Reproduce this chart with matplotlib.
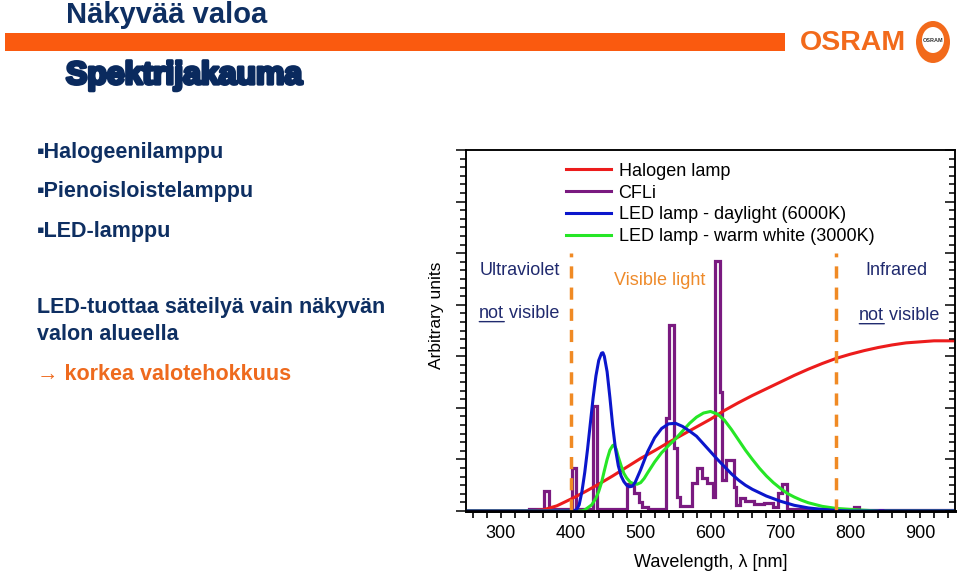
import numpy as np
import matplotlib.pyplot as plt
from matplotlib.lines import Line2D
from matplotlib.patches import Rectangle, Ellipse
import matplotlib.patheffects as pe

plt.rcParams['font.family'] = ['Liberation Sans', 'DejaVu Sans']

# Halogen lamp
halo_nm = [250, 340, 360, 380, 400, 420, 440, 460, 480, 500, 520, 540, 560, 580,
           600, 620, 640, 660, 680, 700, 720, 740, 760, 780, 800, 820, 840, 860,
           880, 900, 920, 950]
halo_val = [0.0, 0.0, 0.02, 0.1, 0.23, 0.37, 0.52, 0.68, 0.85, 1.02, 1.17, 1.33,
            1.48, 1.63, 1.78, 1.95, 2.1, 2.24, 2.37, 2.5, 2.63, 2.75, 2.86, 2.96,
            3.04, 3.11, 3.17, 3.22, 3.26, 3.28, 3.3, 3.3]

# CFLi (step spectrum)
cfl_edges = [250, 340, 362, 369, 402, 408, 432, 438, 481, 490, 497, 502, 510, 537,
             541, 548, 552, 557, 574, 581, 588, 595, 604, 607, 613, 617, 622, 633,
             636, 642, 649, 662, 676, 690, 696, 702, 710, 805, 812, 950]
cfl_val = [0.0, 0.03, 0.39, 0.03, 0.84, 0.04, 2.04, 0.03, 0.52, 0.34, 0.18, 0.08,
           0.04, 1.8, 3.61, 1.22, 0.28, 0.1, 0.54, 0.83, 0.64, 0.54, 0.28, 4.84,
           2.3, 0.6, 0.99, 0.47, 0.12, 0.25, 0.2, 0.14, 0.15, 0.08, 0.35, 0.52,
           0.04, 0.08, 0.02]

# LED daylight (6000K)
day_nm = [250, 400, 408, 412, 416, 420, 424, 428, 432, 436, 440, 444, 446, 448, 452,
          456, 460, 464, 468, 472, 476, 480, 484, 488, 492, 500, 510, 520, 530, 540,
          550, 560, 570, 580, 590, 600, 610, 620, 630, 640, 650, 660, 680, 700, 720,
          740, 760, 780, 800, 950]
day_val = [0.0, 0.0, 0.02, 0.12, 0.38, 0.75, 1.2, 1.7, 2.2, 2.62, 2.92, 3.06, 3.07,
           3.0, 2.7, 2.2, 1.65, 1.2, 0.88, 0.68, 0.57, 0.5, 0.47, 0.48, 0.55, 0.8,
           1.15, 1.42, 1.6, 1.69, 1.7, 1.64, 1.55, 1.45, 1.3, 1.15, 1.0, 0.86, 0.72,
           0.6, 0.5, 0.42, 0.29, 0.19, 0.11, 0.06, 0.03, 0.01, 0.0, 0.0]

# LED warm white (3000K)
warm_nm = [250, 416, 420, 430, 436, 440, 444, 448, 452, 456, 460, 462, 465, 468,
           472, 476, 480, 485, 490, 495, 500, 505, 510, 520, 530, 540, 550, 560,
           570, 580, 590, 600, 610, 620, 630, 640, 650, 660, 670, 680, 690, 700,
           710, 720, 730, 740, 760, 780, 800, 820, 840, 845, 850, 950]
warm_val = [0.0, 0.0, 0.02, 0.12, 0.25, 0.38, 0.55, 0.78, 1.0, 1.18, 1.27, 1.28,
            1.2, 1.05, 0.88, 0.73, 0.64, 0.56, 0.53, 0.52, 0.55, 0.63, 0.74, 0.95,
            1.13, 1.27, 1.4, 1.55, 1.7, 1.82, 1.9, 1.93, 1.88, 1.76, 1.58, 1.38,
            1.18, 1.0, 0.83, 0.68, 0.55, 0.44, 0.34, 0.27, 0.21, 0.16, 0.09, 0.05,
            0.03, 0.015, 0.0, -0.05, 0.0, 0.0]

labels = ['Halogen lamp', 'CFLi', 'LED lamp - daylight (6000K)',
          'LED lamp - warm white (3000K)']
colors = ['#EC1C1C', '#7A1A80', '#0B16CC', '#26E626']
border_nm = [400, 780]
xticks = [300, 400, 500, 600, 700, 800, 900]

navy = '#0E2F62'
dark = '#202A6E'
orange = '#FA5A0F'
vis_orange = '#EE8A2A'

fig = plt.figure(figsize=(9.6, 5.74), dpi=100)

# Kopfbereich
fig.text(66 / 960, 1 - 15 / 574, 'Näkyvää valoa', fontsize=21, fontweight='bold',
         color=navy, va='center', ha='left')
fig.add_artist(Rectangle((5 / 960, 1 - 51 / 574), 780 / 960, 18 / 574,
                         transform=fig.transFigure, color=orange, lw=0))
fig.text(66 / 960, 1 - 76 / 574, 'Spektrijakauma', fontsize=23, fontweight='bold',
         color='#0A2A5E', va='center', ha='left',
         path_effects=[pe.withStroke(linewidth=2.4, foreground='#0A2A5E')])
fig.text(800 / 960, 1 - 43 / 574, 'OSRAM', fontsize=20.5, fontweight='bold',
         color='#F26A1B', va='center', ha='left')
fig.add_artist(Ellipse((933 / 960, 1 - 42 / 574), 34 / 960, 42 / 574,
                       transform=fig.transFigure, color='#F26A1B', lw=0))
fig.add_artist(Ellipse((933 / 960, 1 - 40 / 574), 22 / 960, 26 / 574,
                       transform=fig.transFigure, color='white', lw=0))
fig.text(933 / 960, 1 - 41 / 574, 'OSRAM', fontsize=4, fontweight='bold',
         color='#333333', va='center', ha='center')

# Text links
for txt, py in [('▪Halogeenilamppu', 153), ('▪Pienoisloistelamppu', 191),
                ('▪LED-lamppu', 231)]:
    fig.text(37 / 960, 1 - py / 574, txt, fontsize=15.5, fontweight='bold',
             color=navy, va='center', ha='left')
fig.text(37 / 960, 1 - 308 / 574, 'LED-tuottaa säteilyä vain näkyvän',
         fontsize=15.5, fontweight='bold', color=navy, va='center', ha='left')
fig.text(37 / 960, 1 - 335 / 574, 'valon alueella',
         fontsize=15.5, fontweight='bold', color=navy, va='center', ha='left')
fig.text(37 / 960, 1 - 374 / 574, '→ korkea valotehokkuus',
         fontsize=15.5, fontweight='bold', color='#EE6A1E', va='center', ha='left')

# Diagramm
ax = fig.add_axes([466 / 960, 1 - 511 / 574, 489 / 960, 361 / 574])
ax.set_xlim(250, 950)
ax.set_ylim(0, 7)

ax.stairs(cfl_val, cfl_edges, color=colors[1], lw=2.3, zorder=2)
ax.plot(halo_nm, halo_val, color=colors[0], lw=2.2, zorder=3)
ax.plot(warm_nm, warm_val, color=colors[3], lw=2.2, zorder=4)
ax.plot(day_nm, day_val, color=colors[2], lw=2.2, zorder=5)

for b in border_nm:
    ax.plot([b, b], [0, 5.0], color='#F08A24', lw=2.5, dashes=(3.5, 2.6), zorder=6)

handles = [Line2D([], [], color=c, lw=2.2) for c in colors]
ax.legend(handles, labels, loc='upper left', bbox_to_anchor=(0.205, 0.965),
          frameon=False, fontsize=13, handlelength=2.5, handletextpad=0.4,
          labelspacing=0.27, borderpad=0, borderaxespad=0)

ax.text(327, 4.66, 'Ultraviolet', fontsize=13, color=dark, ha='center', va='center')
ax.text(527, 4.47, 'Visible light', fontsize=13, color=vis_orange, ha='center',
        va='center')
ax.text(866, 4.66, 'Infrared', fontsize=13, color=dark, ha='center', va='center')

for x0, yy in [(269, 3.83), (813, 3.79)]:
    t1 = ax.text(x0, yy, 'not', fontsize=13, color=dark, ha='left', va='center')
    ax.annotate(' visible', xy=(1, 0), xycoords=t1, fontsize=13, color=dark,
                ha='left', va='bottom')
    ax.annotate('', xy=(0, 0.02), xycoords=t1, xytext=(1, 0.02), textcoords=t1,
                arrowprops=dict(arrowstyle='-', color=dark, lw=1.0,
                                shrinkA=0, shrinkB=0))

ax.set_xticks(xticks)
ax.set_xticks(np.arange(260, 951, 20), minor=True)
ax.set_yticks(np.arange(0, 7.01, 1))
ax.set_yticks(np.arange(0, 7.01, 1 / 6), minor=True)
ax.tick_params(axis='x', which='both', direction='out', top=False, labelsize=13,
               length=5, width=1.2, pad=5)
ax.tick_params(axis='y', which='major', direction='out', length=7, width=1.1,
               labelleft=False)
ax.tick_params(axis='y', which='minor', direction='out', length=4, width=1.1)

ax2 = ax.twinx()
ax2.set_ylim(0, 7)
ax2.set_yticks(np.arange(0, 7.01, 1))
ax2.set_yticks(np.arange(0, 7.01, 1 / 6), minor=True)
ax2.tick_params(axis='y', which='major', direction='in', length=7, width=1.1,
                labelright=False)
ax2.tick_params(axis='y', which='minor', direction='in', length=4, width=1.1)

for a in (ax, ax2):
    for s in a.spines.values():
        s.set_linewidth(1.1)
    a.spines['bottom'].set_linewidth(2)

ax.set_xlabel('Wavelength, λ [nm]', fontsize=13, labelpad=9)
fig.text(437 / 960, 1 - 315 / 574, 'Arbitrary units', fontsize=12.5, rotation=90,
         ha='center', va='center')

fig.savefig('out.png', dpi=100)
